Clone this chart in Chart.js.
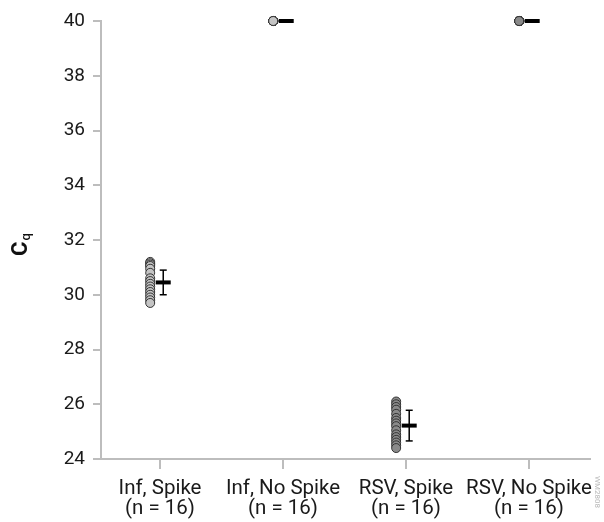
<!DOCTYPE html>
<html>
<head>
<meta charset="utf-8">
<script src="https://cdn.jsdelivr.net/npm/chart.js@4"></script>
<style>
  html, body { margin: 0; padding: 0; background: #fff; }
  #wrap { width: 604px; height: 522px; }
</style>
</head>
<body>
<div id="wrap"><canvas id="c" width="604" height="522"></canvas></div>
<script>
// Group labels (two lines each)
const categories = [
  ["Inf, Spike", "(n = 16)"],
  ["Inf, No Spike", "(n = 16)"],
  ["RSV, Spike", "(n = 16)"],
  ["RSV, No Spike", "(n = 16)"]
];

// Individual Cq values per group
const infSpike   = [31.2, 31.15, 31.1, 31.05, 30.95, 30.8, 30.6, 30.5, 30.4, 30.3, 30.2, 30.1, 30.0, 29.9, 29.8, 29.7];
const infNoSpike = [40, 40, 40, 40, 40, 40, 40, 40, 40, 40, 40, 40, 40, 40, 40, 40];
const rsvSpike   = [26.1, 26.0, 25.9, 25.8, 25.65, 25.5, 25.4, 25.3, 25.2, 25.05, 24.9, 24.8, 24.7, 24.6, 24.5, 24.4];
const rsvNoSpike = [40, 40, 40, 40, 40, 40, 40, 40, 40, 40, 40, 40, 40, 40, 40, 40];

// Group mean and standard deviation
const groupMeans = [30.45, 40, 25.22, 40];
const groupSDs   = [0.45, 0, 0.56, 0];

// Y axis tick values
const yTicks = [24, 26, 28, 30, 32, 34, 36, 38, 40];

const groups = [infSpike, infNoSpike, rsvSpike, rsvNoSpike];
const dotFill = ['#c4c4c4', '#c4c4c4', '#8a8a8a', '#8a8a8a'];
const DOT_SHIFT = -0.08;   // dots sit just left of the category
const STAT_SHIFT = 0.026;  // mean / SD marks sit just right of it

const FONT = 'Roboto, "Noto Sans", sans-serif';

const datasets = [];

// mean markers
datasets.push({
  label: 'mean',
  data: groupMeans.map((m, i) => ({ x: i + STAT_SHIFT, y: m })),
  pointStyle: 'line',
  pointRadius: 7.5,
  pointBorderWidth: 4,
  borderColor: '#000',
  backgroundColor: '#000',
  showLine: false,
  clip: false
});

// SD error bars
groupMeans.forEach((m, i) => {
  const sd = groupSDs[i];
  if (sd <= 0) return;
  datasets.push({
    label: 'sd' + i,
    data: [{ x: i + STAT_SHIFT, y: m - sd }, { x: i + STAT_SHIFT, y: m + sd }],
    showLine: true,
    borderColor: '#000',
    borderWidth: 1.5,
    pointStyle: 'line',
    pointRadius: 3.5,
    pointBorderWidth: 1.5,
    pointBorderColor: '#000',
    clip: false
  });
});

// individual replicates
groups.forEach((vals, i) => {
  datasets.push({
    label: 'pts' + i,
    data: vals.map(v => ({ x: i + DOT_SHIFT, y: v })),
    pointRadius: 4.5,
    pointBorderWidth: 1,
    pointBorderColor: '#333',
    pointBackgroundColor: dotFill[i],
    showLine: false,
    clip: false
  });
});

// Y axis title: C with subscript q, plus figure id on the right edge
const yTitlePlugin = {
  id: 'yTitle',
  afterDraw(chart) {
    const ctx = chart.ctx;
    const area = chart.chartArea;
    const cy = (area.top + area.bottom) / 2 + 5;
    ctx.save();
    ctx.translate(27, cy);
    ctx.rotate(-Math.PI / 2);
    ctx.fillStyle = '#111';
    ctx.textBaseline = 'alphabetic';
    ctx.font = 'bold 22px ' + FONT;
    const wC = ctx.measureText('C').width;
    ctx.font = '500 13px ' + FONT;
    const wq = ctx.measureText('q').width;
    const start = -(wC + wq) / 2;
    ctx.font = 'bold 22px ' + FONT;
    ctx.textAlign = 'left';
    ctx.fillText('C', start, 0);
    ctx.font = '500 13px ' + FONT;
    ctx.fillText('q', start + wC + 1, 3);
    ctx.restore();

    ctx.save();
    ctx.translate(597, 492);
    ctx.rotate(Math.PI / 2);
    ctx.font = '8px ' + FONT;
    ctx.fillStyle = '#b8b8b8';
    ctx.textAlign = 'center';
    ctx.textBaseline = 'middle';
    ctx.fillText('WM2808', 0, 0);
    ctx.restore();
  }
};

new Chart(document.getElementById('c'), {
  type: 'scatter',
  data: { datasets },
  plugins: [yTitlePlugin],
  options: {
    responsive: false,
    animation: false,
    devicePixelRatio: 1,
    layout: { padding: { top: 21, right: 14, left: 0, bottom: 0 } },
    plugins: { legend: { display: false }, tooltip: { enabled: false } },
    scales: {
      x: {
        type: 'linear',
        min: -0.48,
        max: 3.496,
        afterBuildTicks(scale) { scale.ticks = [0, 1, 2, 3].map(v => ({ value: v })); },
        afterFit(scale) { scale.height = 63; },
        grid: { drawOnChartArea: false, tickLength: 10, color: '#bdbdbd', lineWidth: 2 },
        border: { color: '#bdbdbd', width: 2 },
        ticks: {
          callback: (v) => categories[v],
          autoSkip: false,
          maxRotation: 0,
          padding: 10,
          color: '#1a1a1a',
          font: { family: FONT, size: 20.5, lineHeight: 0.97 }
        }
      },
      y: {
        min: 24,
        max: 40,
        afterBuildTicks(scale) { scale.ticks = yTicks.map(v => ({ value: v })); },
        afterFit(scale) { scale.width = 101; },
        grid: { drawOnChartArea: false, tickLength: 8, color: '#bdbdbd', lineWidth: 2 },
        border: { color: '#bdbdbd', width: 2 },
        ticks: {
          padding: 8,
          color: '#1a1a1a',
          font: { family: FONT, size: 19 }
        }
      }
    }
  }
});
</script>
</body>
</html>
